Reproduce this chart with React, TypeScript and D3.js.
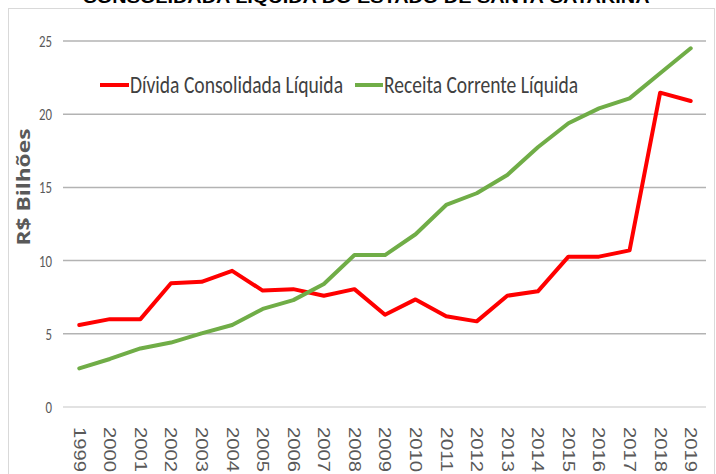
import React from "react";
import * as d3 from "d3";

const years = ["1999","2000","2001","2002","2003","2004","2005","2006","2007","2008","2009","2010","2011","2012","2013","2014","2015","2016","2017","2018","2019"];
const divida = [5.6, 6.0, 6.0, 8.45, 8.55, 9.3, 7.95, 8.05, 7.6, 8.05, 6.3, 7.35, 6.2, 5.85, 7.6, 7.9, 10.27, 10.27, 10.7, 21.47, 20.9];
const receita = [2.64, 3.28, 4.0, 4.4, 5.03, 5.6, 6.7, 7.3, 8.4, 10.38, 10.38, 11.8, 13.8, 14.6, 15.85, 17.74, 19.38, 20.4, 21.08, 22.8, 24.5];
const yTicks = [0, 5, 10, 15, 20, 25];
const seriesNames = ["Dívida Consolidada Líquida", "Receita Corrente Líquida"];
const seriesColors = ["#ff0000", "#70ad47"];
const title = "CONSOLIDADA LÍQUIDA DO ESTADO DE SANTA CATARINA";
const yTitle = "R$ Bilhões";

export default function App() {
  const W = 716, H = 474;
  const x = d3.scaleBand<string>().domain(years).range([64, 706]);
  const y = d3.scaleLinear().domain([0, 25]).range([407, 41]);
  const cx = (d: string) => (x(d) as number) + x.bandwidth() / 2;
  const line = d3.line<number>().x((_, i) => cx(years[i])).y((v) => y(v));
  const series = [divida, receita];
  const font = "Calibri, 'Liberation Sans Narrow', 'DejaVu Sans Condensed', 'Open Sans', sans-serif";

  return (
    <svg width={W} height={H} style={{ position: "absolute", left: 0, top: 0, background: "#fff" }}>
      <rect x={0} y={0} width={W} height={H} fill="#fff" />
      <text x={366} y={3} textAnchor="middle" fontFamily="Arial, 'Liberation Sans', sans-serif" fontWeight="bold" fontSize={17} fill="#000" textLength={567} lengthAdjust="spacingAndGlyphs">{title}</text>
      <rect x={8.5} y={8.5} width={706} height={480} fill="none" stroke="#d9d9d9" strokeWidth={1} />
      {yTicks.map((t) => (
        <g key={t}>
          <line x1={63} x2={706} y1={y(t)} y2={y(t)} stroke={t === 0 ? "#d9d9d9" : "#b3b3b3"} strokeWidth={1.5} />
          <text x={52} y={y(t)} dy="0.35em" textAnchor="end" fontFamily={font} fontSize={17} fill="#595959" textLength={String(t).length * 6.5} lengthAdjust="spacingAndGlyphs">{t}</text>
        </g>
      ))}
      <text transform={`translate(30,187) rotate(-90)`} textAnchor="middle" fontFamily="'Open Sans', Arial, sans-serif" fontWeight="bold" fontSize={17} fill="#595959" textLength={117} lengthAdjust="spacingAndGlyphs">{yTitle}</text>
      {years.map((yr) => (
        <text key={yr} transform={`translate(${cx(yr)},427) rotate(90)`} dy="0.35em" textAnchor="start" fontFamily="Arial, 'Liberation Sans', sans-serif" fontSize={16} fill="#595959" textLength={45} lengthAdjust="spacingAndGlyphs">{yr}</text>
      ))}
      {series.map((s, i) => (
        <path key={i} d={line(s) as string} fill="none" stroke={seriesColors[i]} strokeWidth={4} strokeLinejoin="round" strokeLinecap="round" />
      ))}
      <g>
        <line x1={100} x2={129} y1={85} y2={85} stroke={seriesColors[0]} strokeWidth={4} />
        <text x={130} y={85} dy="0.35em" fontFamily={font} fontSize={24} fill="#404040" textLength={213} lengthAdjust="spacingAndGlyphs">{seriesNames[0]}</text>
        <line x1={355} x2={383} y1={85} y2={85} stroke={seriesColors[1]} strokeWidth={4} />
        <text x={384} y={85} dy="0.35em" fontFamily={font} fontSize={24} fill="#404040" textLength={194} lengthAdjust="spacingAndGlyphs">{seriesNames[1]}</text>
      </g>
    </svg>
  );
}
